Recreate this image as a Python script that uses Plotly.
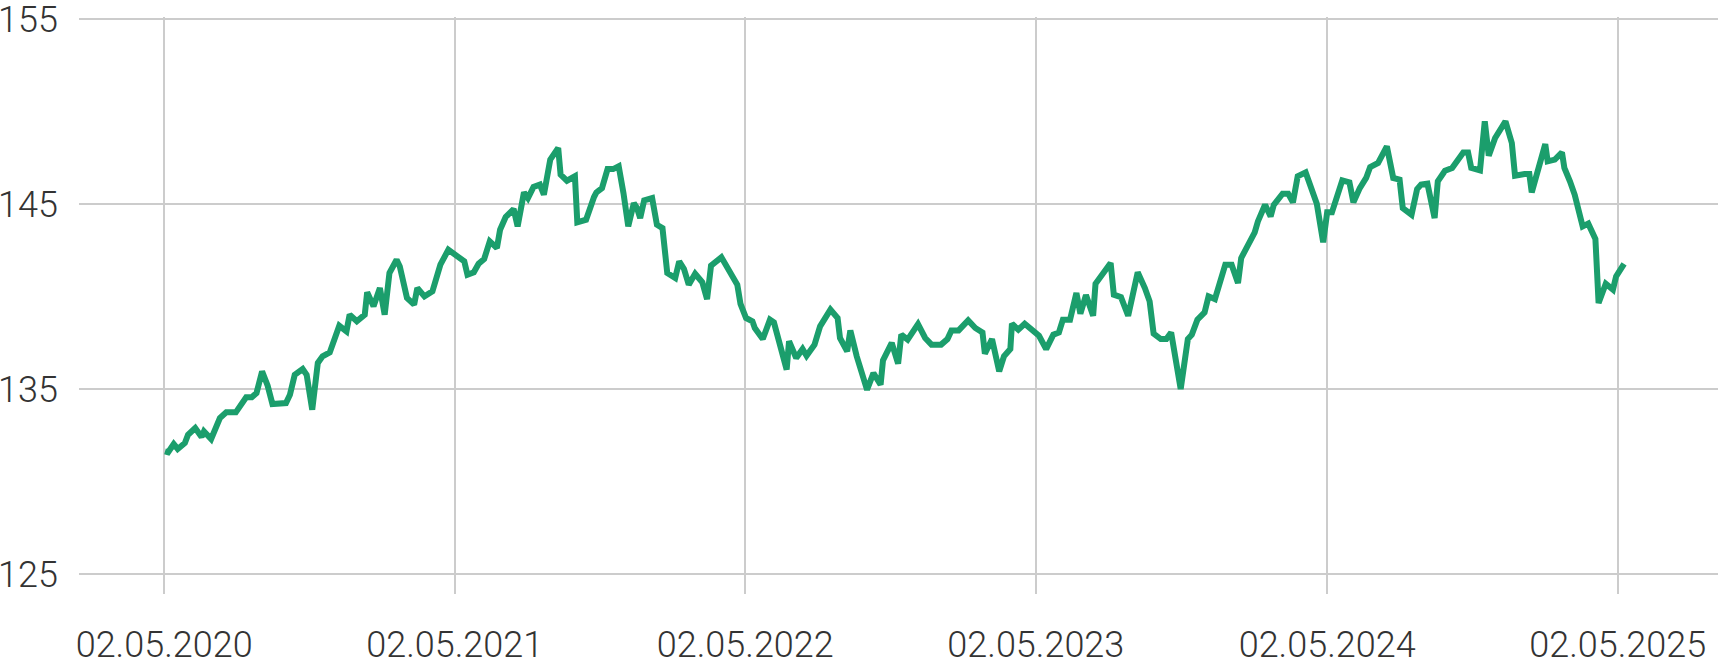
import plotly.graph_objects as go

dates = [
    "2020-05-03", "2020-05-07", "2020-05-14", "2020-05-19", "2020-05-28", "2020-06-01",
    "2020-06-10", "2020-06-18", "2020-06-21", "2020-06-30", "2020-07-11", "2020-07-19",
    "2020-07-31", "2020-08-05", "2020-08-13", "2020-08-20", "2020-08-26", "2020-09-02",
    "2020-09-09", "2020-09-15", "2020-09-23", "2020-10-02", "2020-10-07", "2020-10-13",
    "2020-10-23", "2020-10-28", "2020-11-04", "2020-11-11", "2020-11-17", "2020-11-26",
    "2020-12-08", "2020-12-17", "2020-12-21", "2020-12-30", "2021-01-09", "2021-01-12",
    "2021-01-20", "2021-01-28", "2021-02-03", "2021-02-09", "2021-02-18", "2021-02-22",
    "2021-03-03", "2021-03-12", "2021-03-16", "2021-03-25", "2021-04-04", "2021-04-14",
    "2021-04-24", "2021-05-05", "2021-05-14", "2021-05-18", "2021-05-26", "2021-06-01",
    "2021-06-08", "2021-06-15", "2021-06-24", "2021-06-28", "2021-07-05", "2021-07-15",
    "2021-07-20", "2021-07-28", "2021-08-02", "2021-08-09", "2021-08-17", "2021-08-22",
    "2021-08-30", "2021-09-09", "2021-09-12", "2021-09-20", "2021-09-30", "2021-10-03",
    "2021-10-14", "2021-10-24", "2021-10-27", "2021-11-03", "2021-11-10", "2021-11-17",
    "2021-11-24", "2021-11-30", "2021-12-06", "2021-12-13", "2021-12-17", "2021-12-21",
    "2021-12-26", "2022-01-05", "2022-01-11", "2022-01-18", "2022-01-24", "2022-02-03",
    "2022-02-08", "2022-02-14", "2022-02-20", "2022-02-28", "2022-03-09", "2022-03-15",
    "2022-03-20", "2022-04-02", "2022-04-05", "2022-04-14", "2022-04-22", "2022-04-26",
    "2022-05-03", "2022-05-11", "2022-05-14", "2022-05-24", "2022-06-02", "2022-06-07",
    "2022-06-15", "2022-06-23", "2022-06-26", "2022-07-05", "2022-07-13", "2022-07-18",
    "2022-07-28", "2022-08-04", "2022-08-17", "2022-08-26", "2022-08-29", "2022-09-07",
    "2022-09-11", "2022-09-19", "2022-10-02", "2022-10-10", "2022-10-19", "2022-10-22",
    "2022-11-02", "2022-11-10", "2022-11-14", "2022-11-22", "2022-12-05", "2022-12-14",
    "2022-12-22", "2023-01-03", "2023-01-11", "2023-01-16", "2023-01-25", "2023-02-06",
    "2023-02-15", "2023-02-24", "2023-02-27", "2023-03-08", "2023-03-17", "2023-03-23",
    "2023-03-31", "2023-04-02", "2023-04-10", "2023-04-18", "2023-05-06", "2023-05-15",
    "2023-05-24", "2023-05-31", "2023-06-05", "2023-06-14", "2023-06-22", "2023-06-27",
    "2023-07-04", "2023-07-13", "2023-07-16", "2023-07-25", "2023-08-04", "2023-08-08",
    "2023-08-17", "2023-08-26", "2023-09-07", "2023-09-16", "2023-09-22", "2023-09-27",
    "2023-10-06", "2023-10-13", "2023-10-19", "2023-10-31", "2023-11-09", "2023-11-14",
    "2023-11-21", "2023-11-30", "2023-12-05", "2023-12-13", "2023-12-26", "2024-01-03",
    "2024-01-11", "2024-01-15", "2024-01-23", "2024-02-01", "2024-02-05", "2024-02-14",
    "2024-02-21", "2024-02-25", "2024-03-07", "2024-03-14", "2024-03-20", "2024-03-26",
    "2024-04-05", "2024-04-19", "2024-04-27", "2024-05-02", "2024-05-08", "2024-05-21",
    "2024-05-30", "2024-06-04", "2024-06-12", "2024-06-20", "2024-06-25", "2024-07-05",
    "2024-07-16", "2024-07-24", "2024-08-01", "2024-08-05", "2024-08-16", "2024-08-23",
    "2024-08-28", "2024-09-05", "2024-09-14", "2024-09-18", "2024-09-27", "2024-10-06",
    "2024-10-20", "2024-10-26", "2024-10-30", "2024-11-10", "2024-11-16", "2024-11-21",
    "2024-11-29", "2024-12-12", "2024-12-20", "2024-12-24", "2025-01-05", "2025-01-11",
    "2025-01-14", "2025-01-24", "2025-01-31", "2025-02-03", "2025-02-12", "2025-02-21",
    "2025-02-24", "2025-03-03", "2025-03-09", "2025-03-19", "2025-03-26", "2025-04-04",
    "2025-04-08", "2025-04-17", "2025-04-26", "2025-04-30", "2025-05-04", "2025-05-10",
]

values = [
    131.63, 131.58, 132.03, 131.76, 132.08, 132.53,
    132.89, 132.41, 132.71, 132.30, 133.43, 133.74,
    133.74, 134.10, 134.55, 134.55, 134.78, 135.95,
    135.18, 134.19, 134.24, 134.24, 134.69, 135.77,
    136.08, 135.77, 133.88, 136.41, 136.77, 136.98,
    138.42, 138.12, 139.02, 138.66, 139.02, 140.23,
    139.47, 140.46, 139.02, 141.27, 141.99, 141.63,
    139.92, 139.56, 140.46, 140.01, 140.28, 141.72,
    142.53, 142.17, 141.90, 141.18, 141.31, 141.77,
    142.03, 142.98, 142.62, 143.61, 144.30, 144.73,
    143.79, 145.63, 145.32, 145.92, 146.05, 145.50,
    147.40, 148.03, 146.59, 146.26, 146.50, 144.01,
    144.15, 145.38, 145.63, 145.86, 146.89, 146.89,
    147.04, 145.59, 143.79, 145.05, 144.78, 144.24,
    145.20, 145.32, 143.88, 143.70, 141.27, 141.00,
    141.90, 141.49, 140.64, 141.23, 140.77, 139.86,
    141.67, 142.12, 141.90, 141.18, 140.64, 139.60,
    138.84, 138.66, 138.30, 137.70, 138.75, 138.60,
    137.31, 136.05, 137.58, 136.68, 137.16, 136.80,
    137.40, 138.39, 139.29, 138.84, 137.76, 137.04,
    138.17, 136.77, 134.96, 135.86, 135.23, 136.55,
    137.49, 136.37, 137.94, 137.67, 138.51, 137.76,
    137.40, 137.40, 137.70, 138.17, 138.17, 138.71,
    138.30, 138.06, 136.91, 137.70, 135.95, 136.77,
    137.16, 138.53, 138.21, 138.53, 137.88, 137.16,
    137.94, 138.06, 138.75, 138.75, 140.19, 139.07,
    140.08, 138.96, 140.69, 141.18, 141.81, 140.10,
    139.97, 138.96, 141.31, 140.46, 139.74, 137.99,
    137.70, 137.70, 138.06, 135.00, 137.70, 137.94,
    138.75, 139.14, 140.01, 139.86, 141.72, 141.72,
    140.73, 142.08, 142.71, 143.47, 144.06, 144.96,
    144.33, 144.96, 145.56, 145.56, 145.09, 146.50,
    146.71, 145.02, 142.93, 144.55, 144.55, 146.28,
    146.17, 145.09, 145.86, 146.41, 147.00, 147.22,
    148.12, 146.41, 146.32, 144.78, 144.42, 145.81,
    146.05, 146.10, 144.24, 146.23, 146.80, 146.95,
    147.79, 147.79, 146.95, 146.82, 149.47, 147.61,
    148.57, 149.47, 148.30, 146.53, 146.62, 146.62,
    145.63, 147.13, 148.24, 147.31, 147.40, 147.79,
    146.95, 146.23, 145.50, 143.79, 143.94, 143.11,
    139.65, 140.69, 140.37, 141.09, 141.36, 141.77,
]

x_ticks = ["2020-05-02", "2021-05-02", "2022-05-02", "2023-05-02", "2024-05-02", "2025-05-02"]
x_tick_labels = ["02.05.2020", "02.05.2021", "02.05.2022", "02.05.2023", "02.05.2024", "02.05.2025"]
y_ticks = [125, 135, 145, 155]

LINE_COLOR = "#1b9e6c"
GRID_COLOR = "#cccccc"
TEXT_COLOR = "#333333"
TICK_FONT = dict(family="Roboto", size=36, color=TEXT_COLOR, weight=300)

fig = go.Figure(
    go.Scatter(
        x=dates,
        y=values,
        mode="lines",
        line=dict(color=LINE_COLOR, width=6),
        hoverinfo="skip",
    )
)

fig.update_layout(
    width=1718,
    height=658,
    margin=dict(l=79, r=0, t=17, b=64),
    paper_bgcolor="white",
    plot_bgcolor="white",
    showlegend=False,
    font=TICK_FONT,
)

fig.update_xaxes(
    type="date",
    range=["2020-01-16", "2025-09-05"],
    tickmode="array",
    tickvals=x_ticks,
    ticktext=x_tick_labels,
    showgrid=True,
    gridcolor=GRID_COLOR,
    gridwidth=2,
    zeroline=False,
    showline=False,
    ticks="",
    ticklabelstandoff=26,
    ticklabeloverflow="allow",
    automargin=False,
    tickfont=TICK_FONT,
)

fig.update_yaxes(
    range=[123.92, 155.11],
    tickmode="array",
    tickvals=y_ticks,
    ticktext=[str(v) for v in y_ticks],
    showgrid=True,
    gridcolor=GRID_COLOR,
    gridwidth=2,
    zeroline=False,
    showline=False,
    ticks="",
    ticklabelstandoff=20,
    ticklabeloverflow="allow",
    automargin=False,
    tickfont=TICK_FONT,
)

fig.write_html(
    "out.html",
    config={"displayModeBar": False, "staticPlot": True},
    post_script="document.body.style.margin='0';document.body.style.overflow='hidden';",
)
